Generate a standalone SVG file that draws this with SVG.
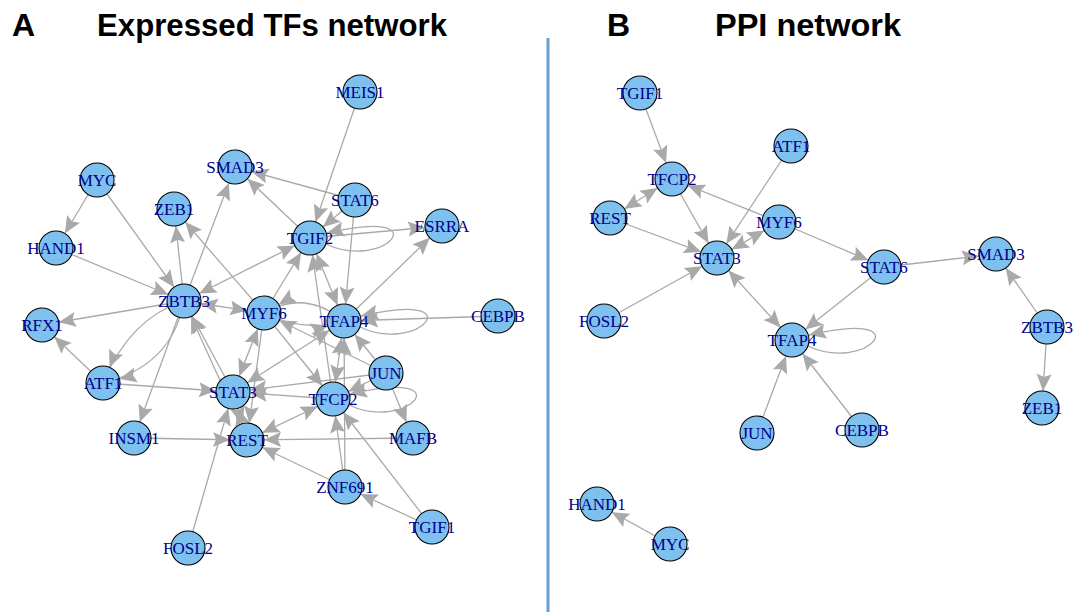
<svg xmlns="http://www.w3.org/2000/svg" width="1074" height="612" viewBox="0 0 1074 612">
<style>
.e{stroke:#a9a9a9;stroke-width:1.3;fill:none}
.a{marker-end:url(#h)}
.b{marker-start:url(#h);marker-end:url(#h)}
.l{marker-end:url(#h0)}
.n circle{fill:#7EC0EE;stroke:#000;stroke-width:1.1}
.n text{font-family:"Liberation Serif","Times New Roman",serif;font-size:17px;fill:#00008B;text-anchor:middle}
.t{font-family:"Liberation Sans",Arial,sans-serif;font-weight:bold;font-size:32px;fill:#000}
</style>
<defs>
<marker id="h" markerUnits="userSpaceOnUse" orient="auto-start-reverse" refX="17" refY="0" markerWidth="20" markerHeight="20" overflow="visible"><path d="M0,0 L-17,-7.5 L-14,0 L-17,7.5 Z" fill="#a9a9a9"/></marker>
<marker id="h0" markerUnits="userSpaceOnUse" orient="auto" refX="0" refY="0" markerWidth="20" markerHeight="20" overflow="visible"><path d="M0,0 L-17,-7.5 L-14,0 L-17,7.5 Z" fill="#a9a9a9"/></marker>
</defs>
<rect width="1074" height="612" fill="#fff"/>
<text class="t" x="12" y="36">A</text>
<text class="t" x="97" y="36" textLength="350" lengthAdjust="spacingAndGlyphs">Expressed TFs network</text>
<text class="t" x="607" y="36">B</text>
<text class="t" x="715" y="36" textLength="186" lengthAdjust="spacingAndGlyphs">PPI network</text>
<line x1="548" y1="38" x2="548" y2="612" stroke="#6a9ed6" stroke-width="3"/>
<g id="edges">
<line class="e a" x1="97" y1="180" x2="56" y2="248"/>
<line class="e a" x1="97" y1="180" x2="184" y2="301"/>
<line class="e a" x1="56" y1="248" x2="184" y2="301"/>
<line class="e a" x1="184" y1="301" x2="174" y2="209"/>
<line class="e a" x1="184" y1="301" x2="235" y2="167"/>
<line class="e a" x1="264" y1="313" x2="174" y2="209"/>
<line class="e a" x1="184" y1="301" x2="42" y2="325"/>
<line class="e a" x1="103" y1="383" x2="42" y2="325"/>
<path class="e a" d="M184,301 Q130,318 103,383"/>
<path class="e a" d="M184,301 Q172,366 103,383"/>
<line class="e a" x1="184" y1="301" x2="134" y2="438"/>
<line class="e a" x1="134" y1="438" x2="247" y2="440"/>
<line class="e a" x1="103" y1="383" x2="233" y2="392"/>
<line class="e b" x1="184" y1="301" x2="264" y2="313"/>
<line class="e a" x1="233" y1="392" x2="184" y2="301"/>
<line class="e a" x1="247" y1="440" x2="184" y2="301"/>
<line class="e b" x1="184" y1="301" x2="310" y2="238"/>
<line class="e a" x1="310" y1="238" x2="235" y2="167"/>
<line class="e a" x1="355" y1="200" x2="235" y2="167"/>
<line class="e a" x1="360" y1="92" x2="310" y2="238"/>
<line class="e a" x1="355" y1="200" x2="310" y2="238"/>
<path class="e l" transform="translate(310,238)" d="M16,6 C75,34 132,-32 17,-5"/>
<line class="e a" x1="310" y1="238" x2="442" y2="226"/>
<line class="e a" x1="344" y1="321" x2="442" y2="226"/>
<line class="e a" x1="355" y1="200" x2="344" y2="321"/>
<line class="e b" x1="310" y1="238" x2="344" y2="321"/>
<line class="e a" x1="333" y1="399" x2="310" y2="238"/>
<line class="e a" x1="264" y1="313" x2="310" y2="238"/>
<path class="e a" d="M264,313 Q304,333 344,321"/>
<path class="e a" d="M344,321 Q305,289 264,313"/>
<line class="e a" x1="386" y1="373" x2="264" y2="313"/>
<line class="e a" x1="264" y1="313" x2="333" y2="399"/>
<line class="e b" x1="233" y1="392" x2="344" y2="321"/>
<line class="e b" x1="264" y1="313" x2="233" y2="392"/>
<line class="e a" x1="264" y1="313" x2="247" y2="440"/>
<line class="e a" x1="386" y1="373" x2="233" y2="392"/>
<line class="e a" x1="333" y1="399" x2="233" y2="392"/>
<line class="e b" x1="233" y1="392" x2="247" y2="440"/>
<line class="e a" x1="188" y1="548" x2="233" y2="392"/>
<line class="e b" x1="247" y1="440" x2="333" y2="399"/>
<line class="e a" x1="413" y1="438" x2="247" y2="440"/>
<line class="e a" x1="386" y1="373" x2="413" y2="438"/>
<line class="e a" x1="386" y1="373" x2="333" y2="399"/>
<path class="e l" transform="translate(333,399)" d="M16,6 C75,34 132,-32 17,-5"/>
<path class="e l" transform="translate(344,321)" d="M16,6 C75,34 132,-32 17,-5"/>
<line class="e a" x1="498" y1="316" x2="344" y2="321"/>
<line class="e a" x1="386" y1="373" x2="344" y2="321"/>
<line class="e b" x1="344" y1="321" x2="333" y2="399"/>
<line class="e a" x1="345" y1="487" x2="344" y2="321"/>
<line class="e a" x1="345" y1="487" x2="333" y2="399"/>
<line class="e a" x1="345" y1="487" x2="247" y2="440"/>
<line class="e a" x1="432" y1="527" x2="345" y2="487"/>
<line class="e a" x1="432" y1="527" x2="333" y2="399"/>
<line class="e a" x1="640" y1="93" x2="672" y2="179"/>
<line class="e b" x1="672" y1="179" x2="610" y2="218"/>
<line class="e a" x1="672" y1="179" x2="717" y2="258"/>
<line class="e a" x1="610" y1="218" x2="717" y2="258"/>
<line class="e a" x1="791" y1="146" x2="717" y2="258"/>
<line class="e a" x1="779" y1="222" x2="672" y2="179"/>
<line class="e b" x1="779" y1="222" x2="717" y2="258"/>
<line class="e a" x1="779" y1="222" x2="884" y2="267"/>
<line class="e a" x1="604" y1="321" x2="717" y2="258"/>
<line class="e b" x1="717" y1="258" x2="792" y2="340"/>
<line class="e a" x1="884" y1="267" x2="792" y2="340"/>
<path class="e l" transform="translate(792,340)" d="M16,6 C75,34 132,-32 17,-5"/>
<line class="e a" x1="757" y1="433" x2="792" y2="340"/>
<line class="e a" x1="862" y1="430" x2="792" y2="340"/>
<line class="e a" x1="884" y1="267" x2="996" y2="254"/>
<line class="e a" x1="1047" y1="327" x2="996" y2="254"/>
<line class="e a" x1="1047" y1="327" x2="1042" y2="408"/>
<line class="e a" x1="670" y1="544" x2="597" y2="504"/>
</g>
<g id="a-MEIS1" class="n"><circle cx="360" cy="92" r="17"/><text x="360" y="98">MEIS1</text></g>
<g id="a-MYC" class="n"><circle cx="97" cy="180" r="17"/><text x="97" y="186">MYC</text></g>
<g id="a-SMAD3" class="n"><circle cx="235" cy="167" r="17"/><text x="235" y="173">SMAD3</text></g>
<g id="a-STAT6" class="n"><circle cx="355" cy="200" r="17"/><text x="355" y="206">STAT6</text></g>
<g id="a-ZEB1" class="n"><circle cx="174" cy="209" r="17"/><text x="174" y="215">ZEB1</text></g>
<g id="a-ESRRA" class="n"><circle cx="442" cy="226" r="17"/><text x="442" y="232">ESRRA</text></g>
<g id="a-TGIF2" class="n"><circle cx="310" cy="238" r="17"/><text x="310" y="244">TGIF2</text></g>
<g id="a-HAND1" class="n"><circle cx="56" cy="248" r="17"/><text x="56" y="254">HAND1</text></g>
<g id="a-ZBTB3" class="n"><circle cx="184" cy="301" r="17"/><text x="184" y="307">ZBTB3</text></g>
<g id="a-MYF6" class="n"><circle cx="264" cy="313" r="17"/><text x="264" y="319">MYF6</text></g>
<g id="a-TFAP4" class="n"><circle cx="344" cy="321" r="17"/><text x="344" y="327">TFAP4</text></g>
<g id="a-CEBPB" class="n"><circle cx="498" cy="316" r="17"/><text x="498" y="322">CEBPB</text></g>
<g id="a-RFX1" class="n"><circle cx="42" cy="325" r="17"/><text x="42" y="331">RFX1</text></g>
<g id="a-JUN" class="n"><circle cx="386" cy="373" r="17"/><text x="386" y="379">JUN</text></g>
<g id="a-ATF1" class="n"><circle cx="103" cy="383" r="17"/><text x="103" y="389">ATF1</text></g>
<g id="a-STAT3" class="n"><circle cx="233" cy="392" r="17"/><text x="233" y="398">STAT3</text></g>
<g id="a-TFCP2" class="n"><circle cx="333" cy="399" r="17"/><text x="333" y="405">TFCP2</text></g>
<g id="a-INSM1" class="n"><circle cx="134" cy="438" r="17"/><text x="134" y="444">INSM1</text></g>
<g id="a-REST" class="n"><circle cx="247" cy="440" r="17"/><text x="247" y="446">REST</text></g>
<g id="a-MAFB" class="n"><circle cx="413" cy="438" r="17"/><text x="413" y="444">MAFB</text></g>
<g id="a-ZNF691" class="n"><circle cx="345" cy="487" r="17"/><text x="345" y="493">ZNF691</text></g>
<g id="a-TGIF1" class="n"><circle cx="432" cy="527" r="17"/><text x="432" y="533">TGIF1</text></g>
<g id="a-FOSL2" class="n"><circle cx="188" cy="548" r="17"/><text x="188" y="554">FOSL2</text></g>
<g id="b-TGIF1" class="n"><circle cx="640" cy="93" r="17"/><text x="640" y="99">TGIF1</text></g>
<g id="b-ATF1" class="n"><circle cx="791" cy="146" r="17"/><text x="791" y="152">ATF1</text></g>
<g id="b-TFCP2" class="n"><circle cx="672" cy="179" r="17"/><text x="672" y="185">TFCP2</text></g>
<g id="b-REST" class="n"><circle cx="610" cy="218" r="17"/><text x="610" y="224">REST</text></g>
<g id="b-MYF6" class="n"><circle cx="779" cy="222" r="17"/><text x="779" y="228">MYF6</text></g>
<g id="b-STAT3" class="n"><circle cx="717" cy="258" r="17"/><text x="717" y="264">STAT3</text></g>
<g id="b-STAT6" class="n"><circle cx="884" cy="267" r="17"/><text x="884" y="273">STAT6</text></g>
<g id="b-SMAD3" class="n"><circle cx="996" cy="254" r="17"/><text x="996" y="260">SMAD3</text></g>
<g id="b-FOSL2" class="n"><circle cx="604" cy="321" r="17"/><text x="604" y="327">FOSL2</text></g>
<g id="b-TFAP4" class="n"><circle cx="792" cy="340" r="17"/><text x="792" y="346">TFAP4</text></g>
<g id="b-ZBTB3" class="n"><circle cx="1047" cy="327" r="17"/><text x="1047" y="333">ZBTB3</text></g>
<g id="b-ZEB1" class="n"><circle cx="1042" cy="408" r="17"/><text x="1042" y="414">ZEB1</text></g>
<g id="b-JUN" class="n"><circle cx="757" cy="433" r="17"/><text x="757" y="439">JUN</text></g>
<g id="b-CEBPB" class="n"><circle cx="862" cy="430" r="17"/><text x="862" y="436">CEBPB</text></g>
<g id="b-HAND1" class="n"><circle cx="597" cy="504" r="17"/><text x="597" y="510">HAND1</text></g>
<g id="b-MYC" class="n"><circle cx="670" cy="544" r="17"/><text x="670" y="550">MYC</text></g>
</svg>
